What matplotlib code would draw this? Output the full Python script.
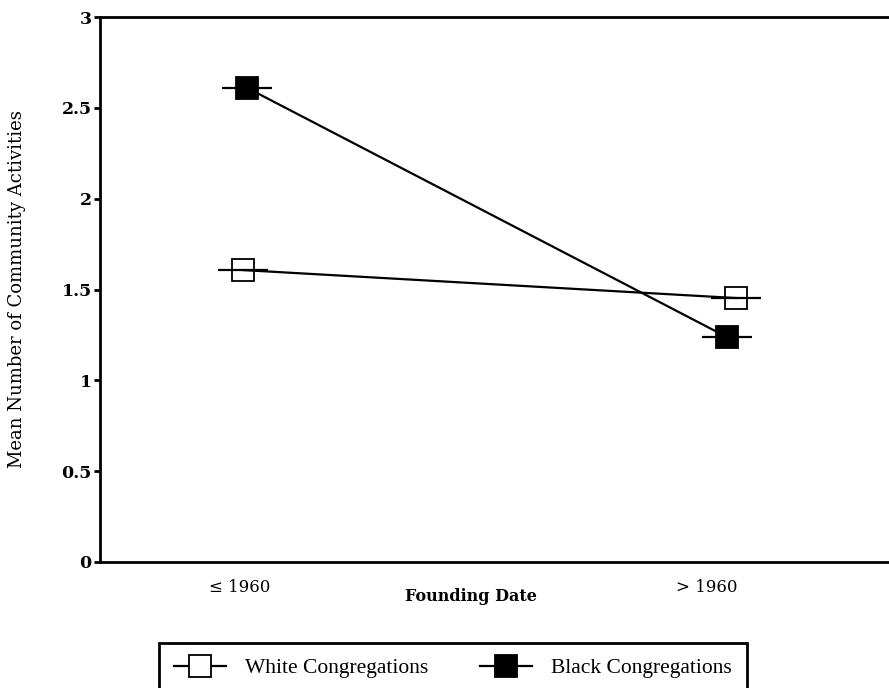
import matplotlib
matplotlib.use("Agg")
import matplotlib.pyplot as plt
from matplotlib.lines import Line2D

# data
categories = ['\u2264 1960', '> 1960']
white_x = [0.006, 1.062]
white_y = [1.607, 1.453]
black_x = [0.015, 1.043]
black_y = [2.61, 1.238]
y_ticks = [0, 0.5, 1, 1.5, 2, 2.5, 3]
y_ticklabels = ['0', '0.5', '1', '1.5', '2', '2.5', '3']

plt.rcParams['font.family'] = ['DejaVu Serif']

fig = plt.figure(figsize=(8.89, 6.88), dpi=100)
ax = fig.add_axes([100/889, (688-562)/688, 789/889, (562-17)/688])

# lines between points
ax.plot(white_x, white_y, color='black', lw=1.6, zorder=2)
ax.plot(black_x, black_y, color='black', lw=1.6, zorder=2)

# short horizontal dash through each marker
ax.plot(white_x, white_y, ls='none', marker='_', ms=36, mew=1.6, color='black', zorder=3)
ax.plot(black_x, black_y, ls='none', marker='_', ms=36, mew=1.6, color='black', zorder=3)
ax.plot(white_x, white_y, ls='none', marker='s', ms=16, mfc='none', mec='black', mew=1.3, zorder=4)
ax.plot(black_x, black_y, ls='none', marker='s', ms=16, mfc='black', mec='black', mew=1.3, zorder=4)

ax.set_xlim(-0.30, 1.39)
ax.set_ylim(0, 3)
ax.set_xticks([0, 1])
ax.set_xticklabels(categories, fontsize=12)
ax.set_yticks(y_ticks)
ax.set_yticklabels(y_ticklabels, fontsize=12.5, fontweight='bold')

for s in ['left', 'bottom', 'top']:
    ax.spines[s].set_linewidth(2)
ax.spines['right'].set_visible(False)
ax.tick_params(axis='y', direction='out', length=4, width=2, pad=2)
ax.tick_params(axis='x', direction='in', length=0, pad=12)

ax.set_xlabel('Founding Date', fontsize=11.5, fontweight='bold', va='center')
ax.xaxis.set_label_coords(0.47, -0.064)
ax.set_ylabel('Mean Number of Community Activities', fontsize=13, va='center')
ax.yaxis.set_label_coords(-0.105, 0.5)

h_white = Line2D([], [], color='black', lw=1.6, marker='s', ms=16, mfc='white', mec='black', mew=1.3)
h_black = Line2D([], [], color='black', lw=1.6, marker='s', ms=16, mfc='black', mec='black', mew=1.3)
leg = fig.legend([h_white, h_black], ['White Congregations', 'Black Congregations'],
                 loc='upper left', bbox_to_anchor=(159/889, 1-643/688, 588/889, 0),
                 mode='expand', ncol=2, handlelength=2.4, handletextpad=0.9,
                 borderpad=0.7, borderaxespad=0, fancybox=False, framealpha=1, edgecolor='black',
                 prop={'family': 'Liberation Serif', 'size': 15.5})
leg.get_frame().set_linewidth(2)

fig.savefig('out.png', dpi=100)
